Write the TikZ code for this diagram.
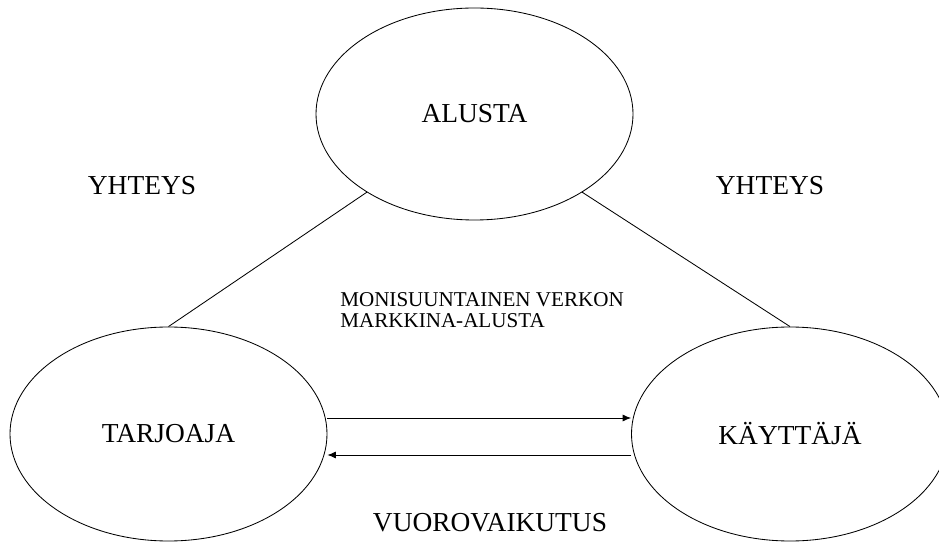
\documentclass[tikz,border=0pt]{standalone}
\usepackage{fontspec}
\setmainfont{Liberation Serif}
\usetikzlibrary{shapes.geometric,arrows.meta}

\tikzset{
  party/.style={ellipse, draw, line width=0.6pt, inner sep=0pt,
    minimum width=7.925cm, minimum height=5.35cm,
    font=\fontsize{19.5}{22}\selectfont},
  biglabel/.style={inner sep=0pt, font=\fontsize{19.5}{22}\selectfont},
  link/.style={line width=0.6pt},
  flow/.style={line width=0.6pt, -{Latex[length=6pt,width=5pt]}}
}

\begin{document}
\begin{tikzpicture}
  \useasboundingbox (0cm,0cm) rectangle (23.475cm,-13.55cm);
  \node[party, minimum height=5.3cm] (alusta) at (11.8625cm,-2.85cm) {ALUSTA};
  \node[party] (tarjoaja) at (4.2125cm,-10.85cm) {TARJOAJA};
  \node[party] (kayttaja) at (19.75cm,-10.85cm) {KÄYTTÄJÄ};
  \draw[link] (alusta.216) -- (tarjoaja.north);
  \draw[link] (alusta.-36) -- (kayttaja.north);
  \draw[flow] ([yshift=0.4cm]tarjoaja.east) -- ([yshift=0.4cm]kayttaja.west);
  \draw[flow] ([yshift=-0.525cm]kayttaja.west) -- ([yshift=-0.525cm]tarjoaja.east);
  \node[biglabel] (yhteysl) at (3.55cm,-4.65cm) {YHTEYS};
  \node[biglabel] (yhteysr) at (19.25cm,-4.65cm) {YHTEYS};
  \node[biglabel] (vuoro) at (12.25cm,-13.075cm) {VUOROVAIKUTUS};
  \node[anchor=west, align=left, inner sep=0pt,
    font=\fontsize{15}{14.5}\selectfont] (markkina) at (8.5cm,-7.75cm)
    {MONISUUNTAINEN VERKON\\MARKKINA-ALUSTA};
\end{tikzpicture}
\end{document}
